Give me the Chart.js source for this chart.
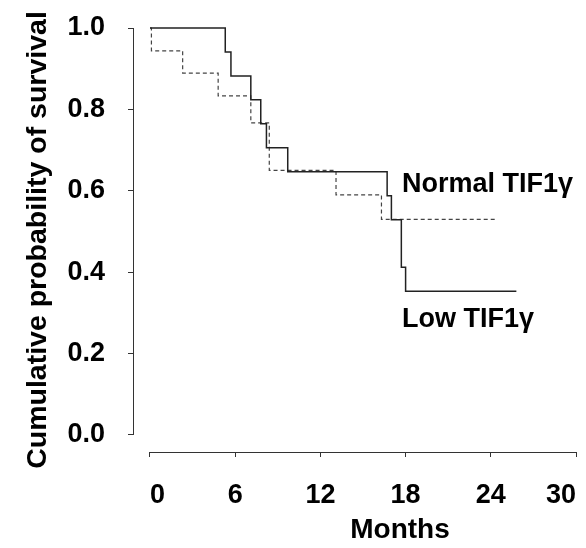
<!DOCTYPE html>
<html>
<head>
<meta charset="utf-8">
<script src="https://cdn.jsdelivr.net/npm/chart.js@4.4.1/dist/chart.umd.min.js"></script>
<style>
  html, body { margin: 0; padding: 0; background: #fff; }
</style>
</head>
<body>
<canvas id="km-chart" width="586" height="548"></canvas>
<script>
// Kaplan-Meier curves (months, survival after the event)
const lowMonths = [0, 5.3, 5.7, 7.1, 7.8, 8.2, 9.7, 16.7, 17.0, 17.7, 18.0, 25.8];
const lowSurvival = [1.0, 0.941, 0.882, 0.824, 0.765, 0.706, 0.647, 0.588, 0.529, 0.412, 0.353, 0.353];

const normalMonths = [0, 0.1, 2.3, 4.8, 7.1, 8.4, 13.1, 16.3, 24.4];
const normalSurvival = [1.0, 0.944, 0.889, 0.833, 0.767, 0.65, 0.59, 0.53, 0.53];

const monthTicks = [0, 6, 12, 18, 24, 30];
const survivalTicks = [0, 0.2, 0.4, 0.6, 0.8, 1.0];

const fontFamily = "'Liberation Sans', Arial, sans-serif";
const ink = '#000';
const axisColor = '#333';

const toPoints = (xs, ys) => xs.map((m, i) => ({ x: m, y: ys[i] }));

// Axis lines only span the data range (0-1 and 0-30), plus the group labels
const axisLines = {
  id: 'axisLines',
  afterDraw(chart) {
    const { ctx, scales: { x, y } } = chart;
    ctx.save();
    ctx.strokeStyle = axisColor;
    ctx.lineWidth = 1;
    ctx.beginPath();
    const left = Math.round(x.left) + 0.5;
    ctx.moveTo(left, y.getPixelForValue(1));
    ctx.lineTo(left, y.getPixelForValue(0));
    const bottom = Math.round(y.bottom) + 0.5;
    ctx.moveTo(x.getPixelForValue(0), bottom);
    ctx.lineTo(x.getPixelForValue(30), bottom);
    ctx.stroke();

    ctx.fillStyle = ink;
    ctx.font = 'bold 27px ' + fontFamily;
    ctx.textBaseline = 'alphabetic';
    ctx.textAlign = 'left';
    ctx.fillText('Normal TIF1\u03B3', x.getPixelForValue(17.75), y.getPixelForValue(0.598));
    ctx.fillText('Low TIF1\u03B3', x.getPixelForValue(17.75), y.getPixelForValue(0.266));

    ctx.font = 'bold 28px ' + fontFamily;
    ctx.textAlign = 'center';
    ctx.fillText('Months', 400, 538);
    ctx.restore();
  }
};

new Chart(document.getElementById('km-chart'), {
  type: 'line',
  data: {
    datasets: [
      {
        label: 'Low TIF1\u03B3',
        data: toPoints(lowMonths, lowSurvival),
        borderColor: '#222',
        borderWidth: 1.5,
        stepped: true,
        pointRadius: 0,
        fill: false,
        clip: false
      },
      {
        label: 'Normal TIF1\u03B3',
        data: toPoints(normalMonths, normalSurvival),
        borderColor: '#444',
        borderWidth: 1.2,
        borderDash: [4, 3],
        stepped: true,
        pointRadius: 0,
        fill: false,
        clip: false
      }
    ]
  },
  options: {
    responsive: false,
    animation: false,
    layout: {
      padding: { left: 0, top: 28, right: 10, bottom: 0 }
    },
    plugins: {
      legend: { display: false },
      tooltip: { enabled: false }
    },
    scales: {
      x: {
        type: 'linear',
        min: -1.197,
        max: 30,
        afterBuildTicks: scale => {
          scale.ticks = monthTicks.map(v => ({ value: v }));
        },
        afterFit: scale => {
          scale.height = 96;
          scale.paddingLeft = 0;
          scale.paddingRight = 0;
        },
        ticks: {
          align: 'inner',
          padding: 22,
          color: ink,
          font: { family: fontFamily, size: 27, weight: 'bold' }
        },
        grid: {
          drawOnChartArea: false,
          drawTicks: true,
          tickLength: 5,
          color: axisColor
        },
        border: { display: false },
        title: { display: false }
      },
      y: {
        type: 'linear',
        min: -0.0418,
        max: 1.0,
        afterBuildTicks: scale => {
          scale.ticks = survivalTicks.map(v => ({ value: v }));
        },
        afterFit: scale => {
          scale.width = 133;
          scale.paddingTop = 0;
          scale.paddingBottom = 0;
        },
        ticks: {
          padding: 23,
          color: ink,
          font: { family: fontFamily, size: 27, weight: 'bold' },
          callback: v => v.toFixed(1)
        },
        grid: {
          drawOnChartArea: false,
          drawTicks: true,
          tickLength: 5,
          color: axisColor
        },
        border: { display: false },
        title: {
          display: true,
          text: 'Cumulative probability of survival',
          color: ink,
          font: { family: fontFamily, size: 28.5, weight: 'bold' },
          padding: { top: 21, bottom: 0 }
        }
      }
    }
  },
  plugins: [axisLines]
});
</script>
</body>
</html>
